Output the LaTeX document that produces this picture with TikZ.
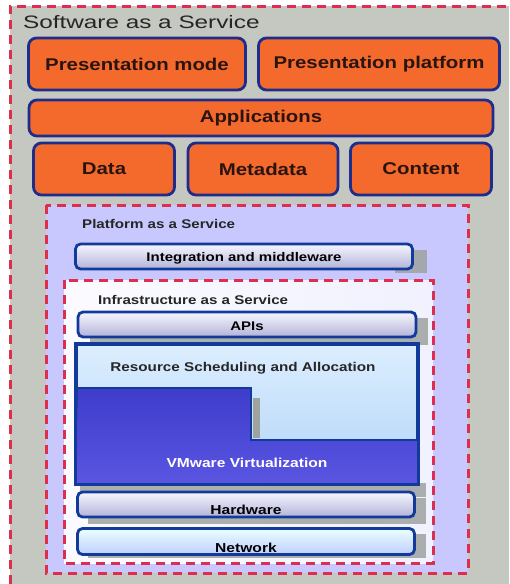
\documentclass[tikz,border=0pt]{standalone}
\usepackage{fontspec}
\setmainfont{Liberation Sans}
\newfontfamily\widefont[FakeStretch=1.2]{Liberation Sans}
\newfontfamily\titlefont[FakeStretch=1.35]{Liberation Sans}
\usetikzlibrary{shadings}

\definecolor{saasbg}{HTML}{C5C7C1}
\definecolor{paasbg}{HTML}{C8C8FF}
\definecolor{frame}{HTML}{DE2E4E}
\definecolor{navy}{HTML}{1E2D8C}
\definecolor{deepblue}{HTML}{123A9A}
\definecolor{orangebox}{HTML}{F46A2C}
\definecolor{inktext}{HTML}{2A1410}
\definecolor{shadowgray}{HTML}{9EA3A0}
\definecolor{vmtop}{HTML}{3E3CCB}
\definecolor{vmbottom}{HTML}{5A56E2}
\definecolor{skytop}{HTML}{DCEEFF}
\definecolor{skybottom}{HTML}{B2D4F6}

\tikzset{
  dashframe/.style={draw=frame, line width=3pt, dash pattern=on 9pt off 6pt},
  obox/.style={rectangle, rounded corners=8pt, draw=navy, line width=2.8pt,
    fill=orangebox, inner sep=0pt, text=inktext, font=\widefont\bfseries\fontsize{17}{19}\selectfont},
  layerbox/.style={rectangle, rounded corners=5pt, draw=deepblue, line width=2.8pt,
    inner sep=0pt, text=black, font=\widefont\bfseries\fontsize{12.5}{14}\selectfont},
  lavbox/.style={layerbox, top color=white!85!paasbg, bottom color=paasbg!70!gray},
  skybox/.style={layerbox, top color=cyan!8!white, bottom color=cyan!25!blue!25!white},
  boxshadow/.style={fill=shadowgray, opacity=0.85},
  framelabel/.style={anchor=west, inner sep=0pt, text=black!85, font=\widefont\bfseries\fontsize{12.6}{14}\selectfont},
}

\begin{document}
\begin{tikzpicture}[x=1pt, y=-1pt]
\useasboundingbox (0,0) rectangle (509,584);
\fill[white] (0,0) rectangle (509,584);

% Software as a Service: outer frame
\fill[saasbg] (10,6) rectangle (509,584);
\draw[dashframe] (10,584) -- (10,6) -- (509,6);
\node[anchor=west, inner sep=0pt, text=black!85, font=\titlefont\fontsize{18}{20}\selectfont] (saas) at (23,22) {Software as a Service};

\node[obox, minimum width=217, minimum height=52] (pmode) at (137,64) {Presentation mode};
\node[obox, minimum width=241, minimum height=52] (pplat) at (379,64) {Presentation platform};
\node[obox, minimum width=464, minimum height=36] (apps) at (261,118) {Applications};
\node[obox, minimum width=141, minimum height=52] (data) at (104,169) {Data};
\node[obox, minimum width=150, minimum height=52] (meta) at (263,169) {Metadata};
\node[obox, minimum width=141, minimum height=52] (content) at (421,169) {Content};

% Platform as a Service frame
\fill[paasbg] (46,205) rectangle (468,573);
\draw[dashframe] (46,205) rectangle (468,573);
\node[framelabel] (paas) at (82,224) {Platform as a Service};

\fill[boxshadow] (395,250) rectangle (427,273);
\node[lavbox, minimum width=337, minimum height=25] (integ) at (244,256.5) {\smash{\raisebox{-4.5pt}{Integration and middleware}}};

% Infrastructure as a Service frame
\shade[left color=white!92!paasbg, right color=white!75!paasbg] (64,280) rectangle (433,563);
\draw[dashframe] (64,280) rectangle (433,563);
\node[framelabel] (iaas) at (98,300) {Infrastructure as a Service};

% stacked shadow column on the right of the layers
\fill[boxshadow] (90,318) rectangle (428,345);
\fill[boxshadow] (80,483) rectangle (426,497);
\fill[boxshadow] (88,498) rectangle (426,524);
\fill[boxshadow] (88,534) rectangle (426,558);

\node[lavbox, minimum width=338, minimum height=25] (apis) at (247,324.5) {\smash{\raisebox{-5.5pt}{APIs}}};

% Resource scheduling block with the virtualization layer inside
\node[rectangle, draw=deepblue, line width=2.8pt, inner sep=0pt,
      top color=skytop, bottom color=skybottom,
      minimum width=340, minimum height=138] (res) at (247,414) {};
\shade[top color=vmtop, bottom color=vmbottom]
  (res.south west) -- (78,388) -- (251,388) -- (251,440) -- (res.east |- 0,440) -- (res.south east) -- cycle;
\fill[shadowgray] (253,398) rectangle (260,438);
\draw[deepblue, line width=2.8pt] (res.west |- 0,388) -- (251,388) -- (251,440) -- (res.east |- 0,440);
\draw[deepblue, line width=2.8pt] (res.north west) rectangle (res.south east);
\node[inner sep=0pt, text=black!85, font=\widefont\bfseries\fontsize{12.7}{14}\selectfont] (sched) at (243,368) {Resource Scheduling and Allocation};
\node[inner sep=0pt, text=white, font=\widefont\bfseries\fontsize{13}{15}\selectfont] (vmw) at (247,463) {VMware Virtualization};

\node[lavbox, minimum width=337, minimum height=25, font=\widefont\bfseries\fontsize{13}{15}\selectfont] (hw) at (246,504.5) {\smash{\raisebox{-10pt}{Hardware}}};
\node[skybox, minimum width=337, minimum height=26, font=\widefont\bfseries\fontsize{13}{15}\selectfont] (net) at (246,541.5) {\smash{\raisebox{-10.5pt}{Network}}};
\end{tikzpicture}
\end{document}
